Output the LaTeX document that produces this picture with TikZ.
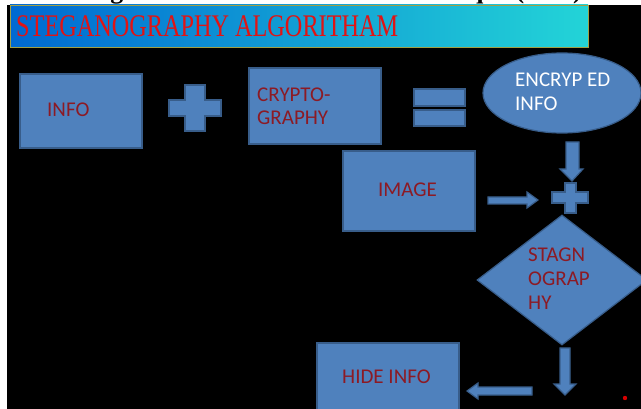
\documentclass[tikz,border=0pt]{standalone}
\usepackage{fontspec}
\setmainfont{Liberation Serif}
\newfontfamily\calfont{Carlito}
\usetikzlibrary{shapes.geometric}
\definecolor{boxblue}{RGB}{79,129,189}
\definecolor{boxedge}{RGB}{56,93,138}
\definecolor{txtred}{RGB}{140,26,36}
\definecolor{titlered}{RGB}{225,20,20}
\definecolor{bandedge}{RGB}{160,160,70}
\tikzset{
  blk/.style={fill=boxblue, draw=boxedge, line width=1.2pt},
  boxnode/.style={blk, rectangle, inner sep=0pt},
  lbl/.style={anchor=base west, inner sep=0pt, text=txtred, font=\calfont\fontsize{21}{24}\selectfont},
  wlbl/.style={lbl, text=white},
}
\begin{document}
\begin{tikzpicture}[x=1pt,y=-1pt]
\useasboundingbox (0,0) rectangle (641,409);
\clip (0,0) rectangle (641,409);
\fill[white] (0,0) rectangle (641,409);
\fill[black] (7,5) rectangle (641,409);
% cut-off heading above
\begin{scope}
\clip (0,0) rectangle (641,4.5);
\node[anchor=base west, inner sep=0pt] (sub) at (22,-1.2) {\resizebox{566pt}{!}{\bfseries Least Significant Bit Substitution Technique (LSB).}};
\end{scope}
% title band
\node[rectangle, minimum width=578pt, minimum height=42pt, inner sep=0pt, left color={rgb,255:red,0;green,105;blue,210}, right color={rgb,255:red,35;green,212;blue,215}, draw=bandedge, line width=0.8pt] (band) at (299,26) {};
\node[anchor=base west, inner sep=0pt, text=titlered] (title) at (16,37) {\scalebox{0.77}[1]{\fontsize{31.5}{33}\selectfont STEGANOGRAPHY ALGORITHAM}};
% boxes
\node[boxnode, minimum width=122pt, minimum height=74pt] (info) at (81,111) {};
\node[lbl] (infot) at (47,117) {INFO};
\node[boxnode, minimum width=132pt, minimum height=76pt] (crypto) at (315,106) {};
\node[lbl] (cryptoa) at (257,102) {CRYPTO-};
\node[lbl] (cryptob) at (257,125) {GRAPHY};
\node[blk, ellipse, minimum width=158pt, minimum height=80pt, inner sep=0pt] (enc) at (562,93) {};
\node[wlbl] (enca) at (515,87) {ENCRYP ED};
\node[wlbl] (encb) at (515,111) {INFO};
\node[boxnode, minimum width=132pt, minimum height=80pt] (image) at (409,191) {};
\node[lbl] (imaget) at (378,197) {IMAGE};
\node[blk, diamond, minimum width=170pt, minimum height=130pt, inner sep=0pt] (steg) at (562,280) {};
\node[lbl] (stega) at (528,262) {STAGN};
\node[lbl] (stegb) at (528,286) {OGRAP};
\node[lbl] (stegc) at (528,309) {HY};
\node[boxnode, minimum width=142pt, minimum height=74pt] (hide) at (388,380) {};
\node[lbl] (hidet) at (342,384) {HIDE INFO};
% plus 1
\draw[blk] (185,85) -- (205,85) -- (205,100) -- (221,100) -- (221,116) -- (205,116) -- (205,131) -- (185,131) -- (185,116) -- (169,116) -- (169,100) -- (185,100) -- cycle;
% equals
\draw[blk] (414,89) rectangle (465,106);
\draw[blk] (414,110) rectangle (465,126);
% plus 2
\draw[blk] (565,183) -- (576,183) -- (576,192) -- (588,192) -- (588,203) -- (576,203) -- (576,213) -- (565,213) -- (565,203) -- (552,203) -- (552,192) -- (565,192) -- cycle;
% arrow enc -> plus2
\draw[blk] (566,142) -- (579,142) -- (579,169) -- (583,169) -- (572,181) -- (560,169) -- (566,169) -- cycle;
% arrow image -> plus2
\draw[blk] (488,197) -- (527,197) -- (527,192) -- (538,200) -- (527,208) -- (527,204) -- (488,204) -- cycle;
% arrow steg -> down
\draw[blk] (560,348) -- (570,348) -- (570,384) -- (576,384) -- (565,395) -- (554,384) -- (560,384) -- cycle;
% arrow -> hide
\draw[blk] (532,387) -- (532,395) -- (478,395) -- (478,399) -- (467,391) -- (478,383) -- (478,387) -- cycle;
% red dot
\fill[red!85!black] (625,398) circle (2.2pt);
\end{tikzpicture}
\end{document}
